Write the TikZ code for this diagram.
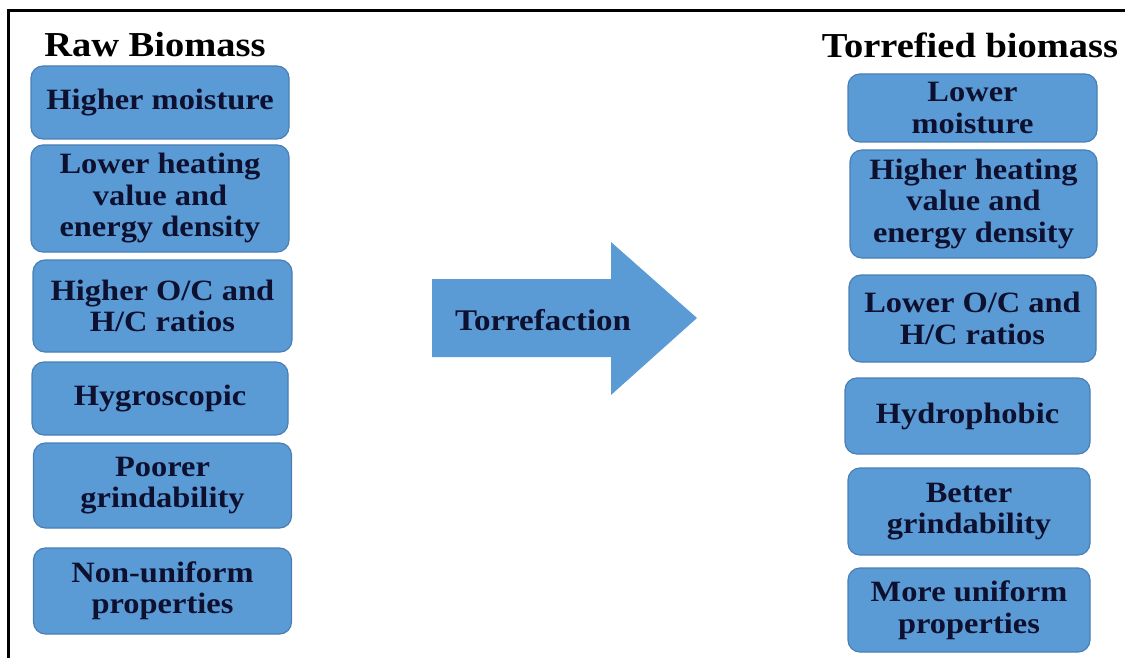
\documentclass[tikz,border=0pt]{standalone}
\usepackage{fontspec}
\setmainfont{Liberation Serif}[FakeStretch=1.1]
\definecolor{boxblue}{HTML}{5B9BD5}
\definecolor{boxline}{HTML}{4A7FB5}
\definecolor{inkblue}{HTML}{0E1030}
\tikzset{
  prop/.style={draw=boxline, line width=1.2pt, fill=boxblue, rounded corners=12pt,
    align=center, inner sep=0pt, text=inkblue, font=\fontsize{29.5}{31.5}\selectfont\bfseries},
  heading/.style={text=black, font=\fontsize{35}{37}\selectfont\bfseries},
}
\begin{document}
\begin{tikzpicture}[x=1pt,y=-1pt]
  \useasboundingbox (0,0) rectangle (1125,658);
  \draw[line width=3pt] (1125,11) -- (8.5,11) -- (8.5,658);

  % raw side
  \node[heading] (rawtitle) at (155,45) {Raw Biomass};
  \node[prop, minimum width=258, minimum height=73]  (rmoist) at (160,102.5) {Higher moisture};
  \node[prop, minimum width=258, minimum height=107] (rheat)  at (160,198.5) {Lower heating\\value and\\energy density};
  \node[prop, minimum width=259, minimum height=92]  (rratio) at (162.5,306) {Higher O/C and\\H/C ratios};
  \node[prop, minimum width=256, minimum height=73]  (rwater) at (160,398.5) {Hygroscopic};
  \node[prop, minimum width=258, minimum height=85]  (rgrind) at (162.5,485.5) {Poorer\\grindability};
  \node[prop, minimum width=258, minimum height=86]  (rprop)  at (162.5,591) {Non-uniform\\properties};

  % torrefaction arrow
  \fill[boxblue] (432,279) -- (611,279) -- (611,242) -- (697,318)
    -- (611,395) -- (611,357) -- (432,357) -- cycle;
  \node[text=inkblue, font=\fontsize{30}{32}\selectfont\bfseries] (torr) at (543,320) {Torrefaction};

  % torrefied side
  \node[heading] (torrtitle) at (970,45) {Torrefied biomass};
  \node[prop, minimum width=249, minimum height=68]  (tmoist) at (972.5,108) {Lower\\moisture};
  \node[prop, minimum width=247, minimum height=108] (theat)  at (973.5,204) {Higher heating\\value and\\energy density};
  \node[prop, minimum width=247, minimum height=87]  (tratio) at (972.5,318.5) {Lower O/C and\\H/C ratios};
  \node[prop, minimum width=245, minimum height=76]  (twater) at (967.5,416) {Hydrophobic};
  \node[prop, minimum width=242, minimum height=87]  (tgrind) at (969,511.5) {Better\\grindability};
  \node[prop, minimum width=242, minimum height=84]  (tprop)  at (969,610) {More uniform\\properties};
\end{tikzpicture}
\end{document}
